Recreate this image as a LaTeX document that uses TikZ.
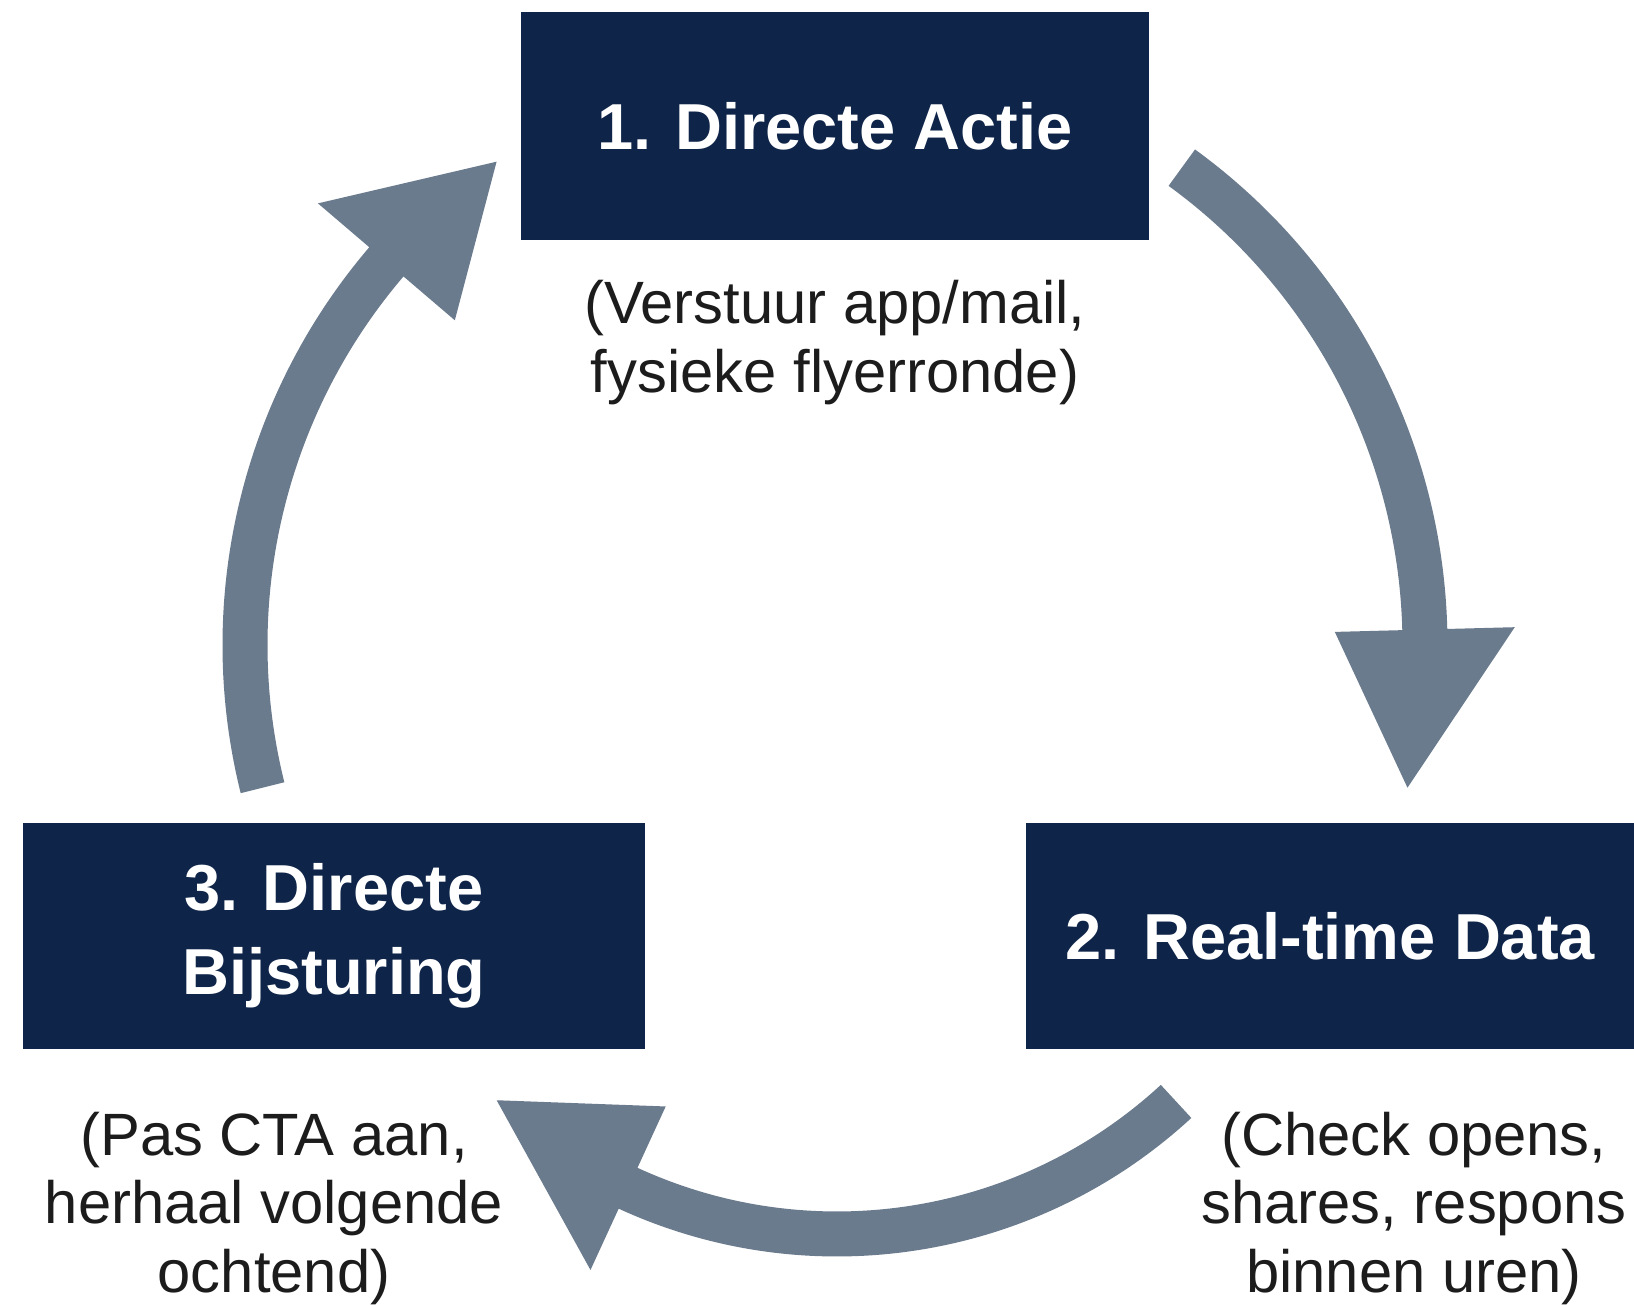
\documentclass[tikz,border=0pt]{standalone}
\usepackage{fontspec}
\setmainfont{Liberation Sans}
\usetikzlibrary{positioning}
\definecolor{navy}{RGB}{14,36,72}
\definecolor{slate}{RGB}{107,123,142}
\definecolor{ink}{RGB}{28,28,28}

% gebogen pijl: #1 middelpunt, #2 straal, #3 staart, #4 basis kop, #5 punt
\newcommand{\bendarrow}[5]{%
  \pgfmathsetmacro\arcin{#2-22.5}\pgfmathsetmacro\arcout{#2+22.5}%
  \pgfmathsetmacro\headin{#2-90}\pgfmathsetmacro\headout{#2+90}%
  \fill[flow] ([shift={(#3:\arcin)}]#1) arc[start angle=#3, end angle=#4, radius=\arcin]
    -- ([shift={(#4:\headin)}]#1) -- ([shift={(#5:#2)}]#1) -- ([shift={(#4:\headout)}]#1)
    -- ([shift={(#4:\arcout)}]#1) arc[start angle=#4, end angle=#3, radius=\arcout] -- cycle;}

\begin{document}
\begin{tikzpicture}[x=0.02cm, y=0.02cm, phase/.style={fill=navy, text=white, inner sep=0pt, align=center, font=\fontsize{37}{48}\selectfont\bfseries}]
\tikzstyle{note}=[text=ink, inner sep=0pt, align=center, font=\fontsize{34}{39}\selectfont]
\tikzstyle{flow}=[fill=slate]

\useasboundingbox (0,0) rectangle (1634,1305);
\coordinate (hub) at (835,660);
\coordinate (hubdown) at (837,571);

\node (act) [phase, minimum width=12.56cm, minimum height=4.56cm] at (835,1179) {1. Directe Actie};
\node (data) [phase, minimum width=12.16cm, minimum height=4.52cm] at (1330,369) {2. Real-time Data};
\node (fix) [phase, minimum width=12.44cm, minimum height=4.52cm] at (334,369) {3. Directe\\Bijsturing};

% toelichting
\node (actnote) [note, below=0.8cm of act] {(Verstuur app/mail,\\fysieke flyerronde)};
\node (datanote) [note, below=1.25cm of data, xshift=1.68cm] {(Check opens,\\shares, respons\\binnen uren)};
\node (fixnote) [note, below=1.25cm of fix, xshift=-1.2cm] {(Pas CTA aan,\\herhaal volgende\\ochtend)};

% pijlen
\bendarrow{hub}{590}{54}{1.5}{-14}
\bendarrow{hubdown}{500}{-47.3}{-114.7}{-132.9}
\bendarrow{hub}{590}{194}{139.5}{125}
\end{tikzpicture}
\end{document}
